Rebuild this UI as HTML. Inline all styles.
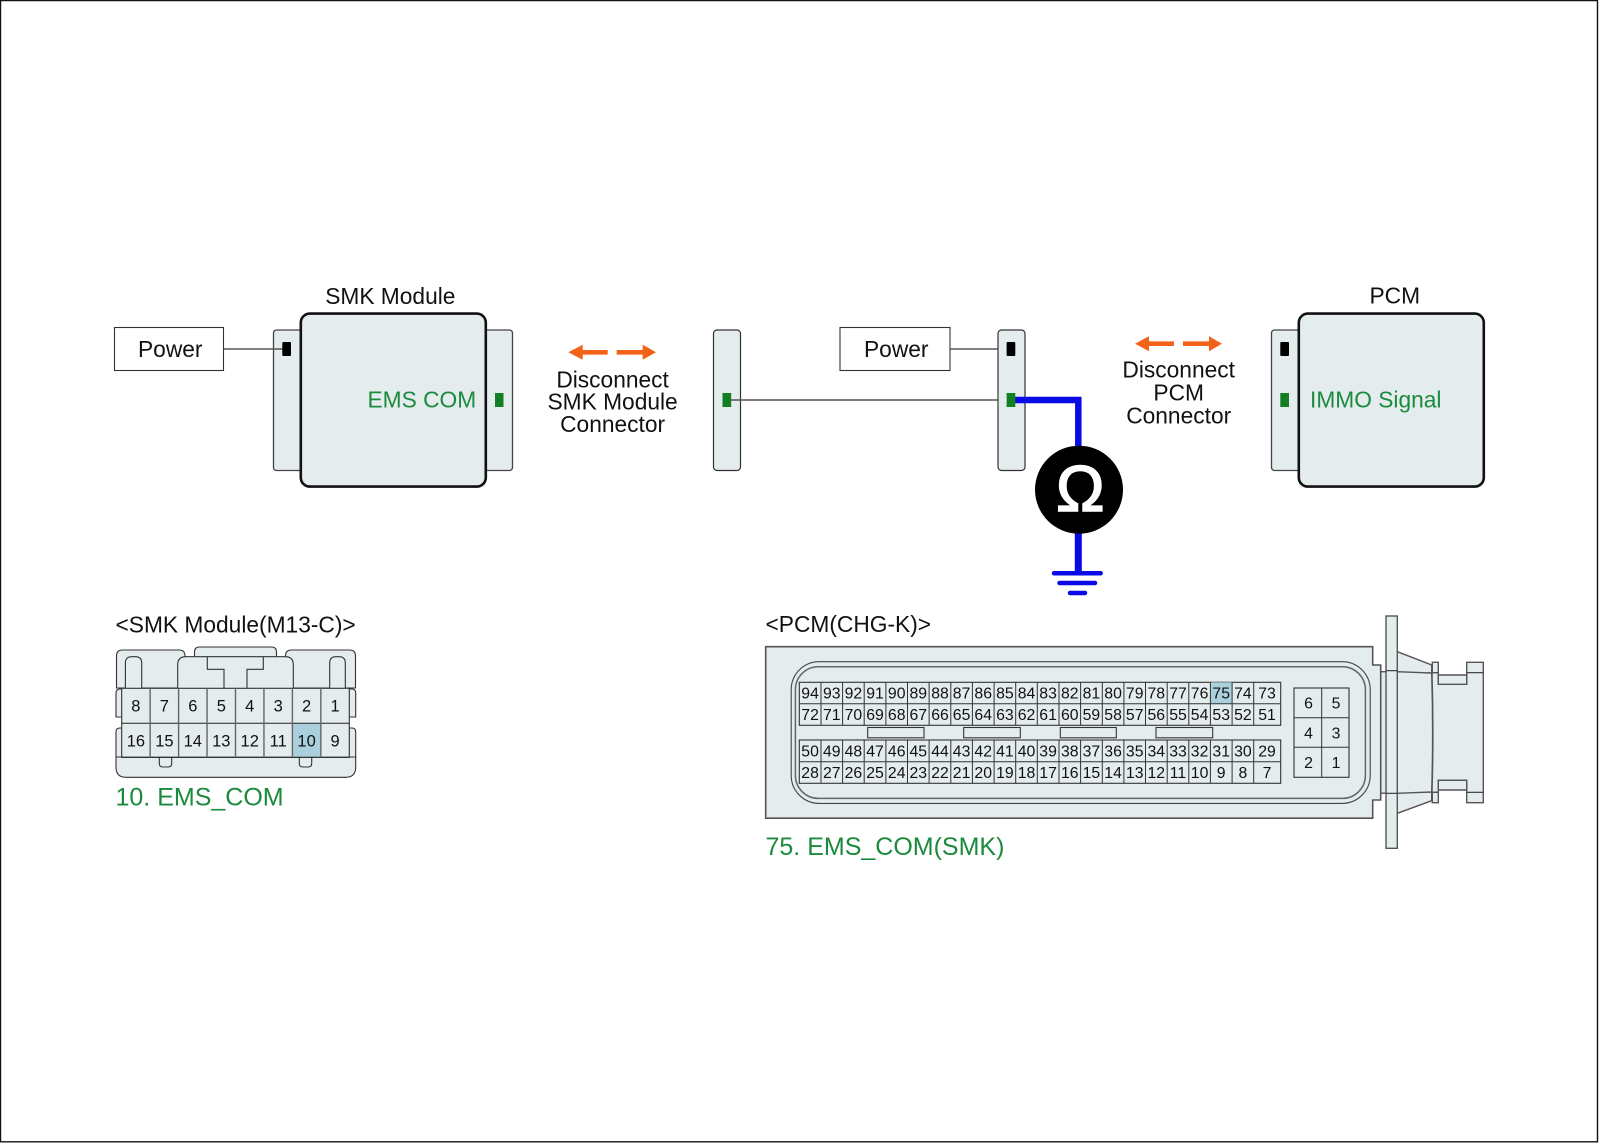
<!DOCTYPE html>
<html>
<head>
<meta charset="utf-8">
<style>
html,body{margin:0;padding:0;background:#fff;width:1600px;height:1143px;overflow:hidden}
svg{display:block}
text{font-family:"Liberation Sans",sans-serif;fill:#111}
.l{font-size:22.75px}
.m{font-size:22.75px;text-anchor:middle}
.g{fill:#1b8a3c}
.a{fill:#f26318}
.p{fill:#e4ecee}
.n1 text{font-size:16.5px;text-anchor:middle}
.n2 text{font-size:15.8px;text-anchor:middle}
</style>
</head>
<body>
<svg width="1600" height="1143" viewBox="0 0 1600 1143" xmlns="http://www.w3.org/2000/svg">
<rect width="1600" height="1143" fill="#fff"/>
<path d="M0.5 0.5H1597.5V1141.8H0.5Z" fill="none" stroke="#111" stroke-width="1.4"/>

<!-- SMK module -->
<rect x="273.5" y="330" width="40" height="140.5" rx="3" class="p" stroke="#444" stroke-width="1.3"/>
<rect x="472" y="330" width="40.5" height="140.5" rx="3" class="p" stroke="#444" stroke-width="1.3"/>
<rect x="300.8" y="313.6" width="185" height="173" rx="9" class="p" stroke="#111" stroke-width="2.6"/>
<text class="l" x="325.2" y="304">SMK Module</text>
<text class="l g" x="367.5" y="407.3">EMS COM</text>
<rect x="114.5" y="327.5" width="109" height="43" fill="#fff" stroke="#333" stroke-width="1.1"/>
<text class="l" x="138" y="357">Power</text>
<path d="M223.5 349H283" stroke="#555" stroke-width="1.6"/>
<rect x="282.3" y="342" width="8.7" height="14" rx="1" fill="#000"/>
<rect x="495" y="393" width="8.5" height="14" fill="#117f22"/>

<!-- Arrows 1 -->
<path class="a" d="M568.3 352.3L582.7 344.8V350H607.7V354.6H582.7V359.8Z"/>
<path class="a" d="M656 352.3L642.7 344.8V350H616.7V354.6H642.7V359.8Z"/>
<text class="m" x="612.6" y="387.3">Disconnect</text>
<text class="m" x="612.6" y="409.6">SMK Module</text>
<text class="m" x="612.6" y="432">Connector</text>

<!-- Middle connectors -->
<rect x="713.5" y="330" width="27" height="140.5" rx="3.5" class="p" stroke="#333" stroke-width="1.2"/>
<rect x="722.5" y="393" width="8.7" height="14" fill="#117f22"/>
<path d="M731 400H1007" stroke="#555" stroke-width="1.6"/>
<rect x="840" y="327.5" width="110" height="43" fill="#fff" stroke="#333" stroke-width="1.1"/>
<text class="l" x="864" y="357">Power</text>
<path d="M950 349H1007" stroke="#555" stroke-width="1.6"/>
<rect x="998" y="330" width="27" height="140.5" rx="3.5" class="p" stroke="#333" stroke-width="1.2"/>
<rect x="1006.6" y="342" width="8.7" height="14" rx="1" fill="#000"/>
<path d="M1014 400H1078.3V448" fill="none" stroke="#0a0ae6" stroke-width="6.5"/>
<path d="M1078.3 530V574" stroke="#0a0ae6" stroke-width="7"/>
<path d="M1054 573.3H1100.7M1059.5 583H1095M1070 593H1085" stroke="#0a0ae6" stroke-width="4.5" stroke-linecap="round"/>
<rect x="1006.6" y="393" width="8.7" height="14" fill="#117f22"/>
<circle cx="1079" cy="489.7" r="44" fill="#000"/>
<text x="1080.3" y="511" style="font-size:65px;fill:#fff;stroke:#fff;stroke-width:1.6;text-anchor:middle">Ω</text>

<!-- Arrows 2 -->
<path class="a" d="M1135 343.7L1149 336.2V341.4H1174V346H1149V351.2Z"/>
<path class="a" d="M1222 343.7L1209 336.2V341.4H1183V346H1209V351.2Z"/>
<text class="m" x="1178.7" y="377.7">Disconnect</text>
<text class="m" x="1178.7" y="400.5">PCM</text>
<text class="m" x="1178.7" y="423.3">Connector</text>

<!-- PCM -->
<rect x="1271.5" y="330" width="40" height="140.5" rx="3" class="p" stroke="#444" stroke-width="1.3"/>
<rect x="1298.8" y="313.6" width="185" height="173" rx="9" class="p" stroke="#111" stroke-width="2.6"/>
<text class="l" x="1369.5" y="303.3">PCM</text>
<text class="l g" x="1310" y="407.3">IMMO Signal</text>
<rect x="1280.3" y="342" width="8.7" height="14" rx="1" fill="#000"/>
<rect x="1280.3" y="393" width="8.7" height="14" fill="#117f22"/>

<!-- SMK connector -->
<text class="l" x="115.5" y="632.5">&lt;SMK Module(M13-C)&gt;</text>
<g class="p" stroke="#333" stroke-width="1.1">
<path d="M194.5 657V652Q194.5 647 199.5 647H271.5Q276.5 647 276.5 652V657Z"/>
<path d="M116.5 688V656Q116.5 650 122.5 650H179Q185 650 185 656V688Z"/>
<path d="M285.5 688V656Q285.5 650 291.5 650H349.5Q355.5 650 355.5 656V688Z"/>
<path d="M177.7 690V664.7Q177.7 656.7 185.7 656.7H285.3Q293.3 656.7 293.3 664.7V690Z"/>
<path d="M207.3 656.7V669.3H224V690M263.3 656.7V669.3H247V690" fill="none"/>
<path d="M125.4 690V663Q125.4 656.7 131.7 656.7H135.4Q141.7 656.7 141.7 663V690Z"/>
<path d="M329.7 690V663Q329.7 656.7 336 656.7H339Q345.3 656.7 345.3 663V690Z"/>
<path d="M122 689H120Q116 689 116 693V717H122ZM349 689H352Q355.7 689 355.7 693V717H349Z"/>
<path d="M122 728H120Q116 728 116 732V757H122ZM349 728H352Q355.7 728 355.7 732V757H349Z"/>
<path d="M116 757H355.7V767Q355.7 777.3 345.7 777.3H126Q116 777.3 116 767Z"/>
<path d="M159.3 757V763.5Q159.3 767 163 767H168Q171.7 767 171.7 763.5V757Z"/>
<path d="M299.3 757V763.5Q299.3 767 303 767H308Q311.7 767 311.7 763.5V757Z"/>
<rect x="121.7" y="688.3" width="227.6" height="69"/>
</g>
<rect x="292.4" y="723.3" width="28.45" height="34" fill="#a9d0dc"/>
<path d="M121.7 723.3H349.3M121.7 757.3H349.3" stroke="#222" stroke-width="1"/>
<path d="M150.15 688.3V757.3M178.6 688.3V757.3M207.05 688.3V757.3M235.5 688.3V757.3M263.95 688.3V757.3M292.4 688.3V757.3M320.85 688.3V757.3" stroke="#666" stroke-width="1.4"/>
<g class="n1">
<text x="135.9" y="711.7">8</text><text x="164.4" y="711.7">7</text><text x="192.8" y="711.7">6</text><text x="221.3" y="711.7">5</text><text x="249.7" y="711.7">4</text><text x="278.2" y="711.7">3</text><text x="306.6" y="711.7">2</text><text x="335.1" y="711.7">1</text>
<text x="135.9" y="746.7">16</text><text x="164.4" y="746.7">15</text><text x="192.8" y="746.7">14</text><text x="221.3" y="746.7">13</text><text x="249.7" y="746.7">12</text><text x="278.2" y="746.7">11</text><text x="306.6" y="746.7">10</text><text x="335.1" y="746.7">9</text>
</g>
<text class="g" x="115.5" y="805.7" style="font-size:25px">10. EMS_COM</text>

<!-- PCM connector -->
<text class="l" x="765.5" y="632">&lt;PCM(CHG-K)&gt;</text>
<g class="p" stroke="#555" stroke-width="1.4">
<path d="M1397.3 651.7L1431.7 665V673H1397.3Z"/>
<path d="M1397.3 813.3L1431.7 800.7V792H1397.3Z"/>
<path d="M1397.3 671.7L1431.7 673Q1433.5 732 1431.7 792L1397.3 793.3Z"/>
<rect x="1380.7" y="671.7" width="6" height="121.5"/>
<path d="M1432 672.7H1438.3V684.3H1466.7V662.3H1483.3V802.7H1466.7V780.3H1438.3V792.3H1432Q1433.8 732 1432 672.7Z"/>
<rect x="1432.3" y="662.3" width="6" height="10.4"/>
<rect x="1432.3" y="792.3" width="6" height="10.4"/>
<path d="M1438.3 675H1466.7V684.3H1438.3ZM1438.3 780.3H1466.7V790H1438.3Z"/>
<rect x="1386" y="616" width="11.3" height="232.3"/>
</g>
<path d="M1386 670.7H1397.3M1386 793.3H1397.3M1466.7 672.7H1483.3M1466.7 792.3H1483.3" stroke="#333" stroke-width="1.1"/>
<path class="p" d="M765.7 646.7H1372.7V665H1380.7V800H1372.7V818.2H765.7Z" stroke="#555" stroke-width="1.6"/>
<rect x="791.2" y="661.7" width="579" height="141.7" rx="28" fill="none" stroke="#444" stroke-width="1.1"/>
<rect x="795.4" y="666.7" width="570" height="131.7" rx="23" fill="none" stroke="#666" stroke-width="1.5"/>
<rect x="799.3" y="682.3" width="481.4" height="43" class="p" stroke="#333" stroke-width="1.1"/>
<rect x="799.3" y="740" width="481.4" height="43.3" class="p" stroke="#333" stroke-width="1.1"/>
<rect x="1210.4" y="682.3" width="21.7" height="21.4" fill="#a9d0dc"/>
<path d="M799.3 703.7H1280.7M799.3 761.7H1280.7M821 682.3V725.3M842.6 682.3V725.3M864.2 682.3V725.3M885.9 682.3V725.3M907.5 682.3V725.3M929.1 682.3V725.3M950.8 682.3V725.3M972.4 682.3V725.3M994.1 682.3V725.3M1015.7 682.3V725.3M1037.3 682.3V725.3M1059 682.3V725.3M1080.6 682.3V725.3M1102.3 682.3V725.3M1123.9 682.3V725.3M1145.5 682.3V725.3M1167.2 682.3V725.3M1188.8 682.3V725.3M1210.4 682.3V725.3M1232.1 682.3V725.3M1253.7 682.3V725.3M821 740V783.3M842.6 740V783.3M864.2 740V783.3M885.9 740V783.3M907.5 740V783.3M929.1 740V783.3M950.8 740V783.3M972.4 740V783.3M994.1 740V783.3M1015.7 740V783.3M1037.3 740V783.3M1059 740V783.3M1080.6 740V783.3M1102.3 740V783.3M1123.9 740V783.3M1145.5 740V783.3M1167.2 740V783.3M1188.8 740V783.3M1210.4 740V783.3M1232.1 740V783.3M1253.7 740V783.3" stroke="#333" stroke-width="1" fill="none"/>
<g class="p" stroke="#333" stroke-width="1.1">
<rect x="867.7" y="727.5" width="56.3" height="10.3"/>
<rect x="963.7" y="727.5" width="56.6" height="10.3"/>
<rect x="1060.3" y="727.5" width="56" height="10.3"/>
<rect x="1156" y="727.5" width="56.7" height="10.3"/>
<rect x="1294" y="688" width="55" height="89.3"/>
</g>
<path d="M1321.7 688V777.3M1294 717.7H1349M1294 747.3H1349" stroke="#333" stroke-width="1"/>
<g class="n2">
<text x="810.1" y="698.6">94</text><text x="831.8" y="698.6">93</text><text x="853.4" y="698.6">92</text><text x="875" y="698.6">91</text><text x="896.7" y="698.6">90</text><text x="918.3" y="698.6">89</text><text x="940" y="698.6">88</text><text x="961.6" y="698.6">87</text><text x="983.2" y="698.6">86</text><text x="1004.9" y="698.6">85</text><text x="1026.5" y="698.6">84</text><text x="1048.1" y="698.6">83</text><text x="1069.8" y="698.6">82</text><text x="1091.4" y="698.6">81</text><text x="1113.1" y="698.6">80</text><text x="1134.7" y="698.6">79</text><text x="1156.3" y="698.6">78</text><text x="1178" y="698.6">77</text><text x="1199.6" y="698.6">76</text><text x="1221.2" y="698.6">75</text><text x="1242.9" y="698.6">74</text><text x="1267" y="698.6">73</text>
<text x="810.1" y="720">72</text><text x="831.8" y="720">71</text><text x="853.4" y="720">70</text><text x="875" y="720">69</text><text x="896.7" y="720">68</text><text x="918.3" y="720">67</text><text x="940" y="720">66</text><text x="961.6" y="720">65</text><text x="983.2" y="720">64</text><text x="1004.9" y="720">63</text><text x="1026.5" y="720">62</text><text x="1048.1" y="720">61</text><text x="1069.8" y="720">60</text><text x="1091.4" y="720">59</text><text x="1113.1" y="720">58</text><text x="1134.7" y="720">57</text><text x="1156.3" y="720">56</text><text x="1178" y="720">55</text><text x="1199.6" y="720">54</text><text x="1221.2" y="720">53</text><text x="1242.9" y="720">52</text><text x="1267" y="720">51</text>
<text x="810.1" y="756.3">50</text><text x="831.8" y="756.3">49</text><text x="853.4" y="756.3">48</text><text x="875" y="756.3">47</text><text x="896.7" y="756.3">46</text><text x="918.3" y="756.3">45</text><text x="940" y="756.3">44</text><text x="961.6" y="756.3">43</text><text x="983.2" y="756.3">42</text><text x="1004.9" y="756.3">41</text><text x="1026.5" y="756.3">40</text><text x="1048.1" y="756.3">39</text><text x="1069.8" y="756.3">38</text><text x="1091.4" y="756.3">37</text><text x="1113.1" y="756.3">36</text><text x="1134.7" y="756.3">35</text><text x="1156.3" y="756.3">34</text><text x="1178" y="756.3">33</text><text x="1199.6" y="756.3">32</text><text x="1221.2" y="756.3">31</text><text x="1242.9" y="756.3">30</text><text x="1267" y="756.3">29</text>
<text x="810.1" y="778">28</text><text x="831.8" y="778">27</text><text x="853.4" y="778">26</text><text x="875" y="778">25</text><text x="896.7" y="778">24</text><text x="918.3" y="778">23</text><text x="940" y="778">22</text><text x="961.6" y="778">21</text><text x="983.2" y="778">20</text><text x="1004.9" y="778">19</text><text x="1026.5" y="778">18</text><text x="1048.1" y="778">17</text><text x="1069.8" y="778">16</text><text x="1091.4" y="778">15</text><text x="1113.1" y="778">14</text><text x="1134.7" y="778">13</text><text x="1156.3" y="778">12</text><text x="1178" y="778">11</text><text x="1199.6" y="778">10</text><text x="1221.2" y="778">9</text><text x="1242.9" y="778">8</text><text x="1267" y="778">7</text>
<text x="1308.5" y="708.5">6</text><text x="1336" y="708.5">5</text>
<text x="1308.5" y="738.5">4</text><text x="1336" y="738.5">3</text>
<text x="1308.5" y="768">2</text><text x="1336" y="768">1</text>
</g>
<text class="g" x="765.5" y="855" style="font-size:25px">75. EMS_COM(SMK)</text>
</svg>
</body>
</html>
